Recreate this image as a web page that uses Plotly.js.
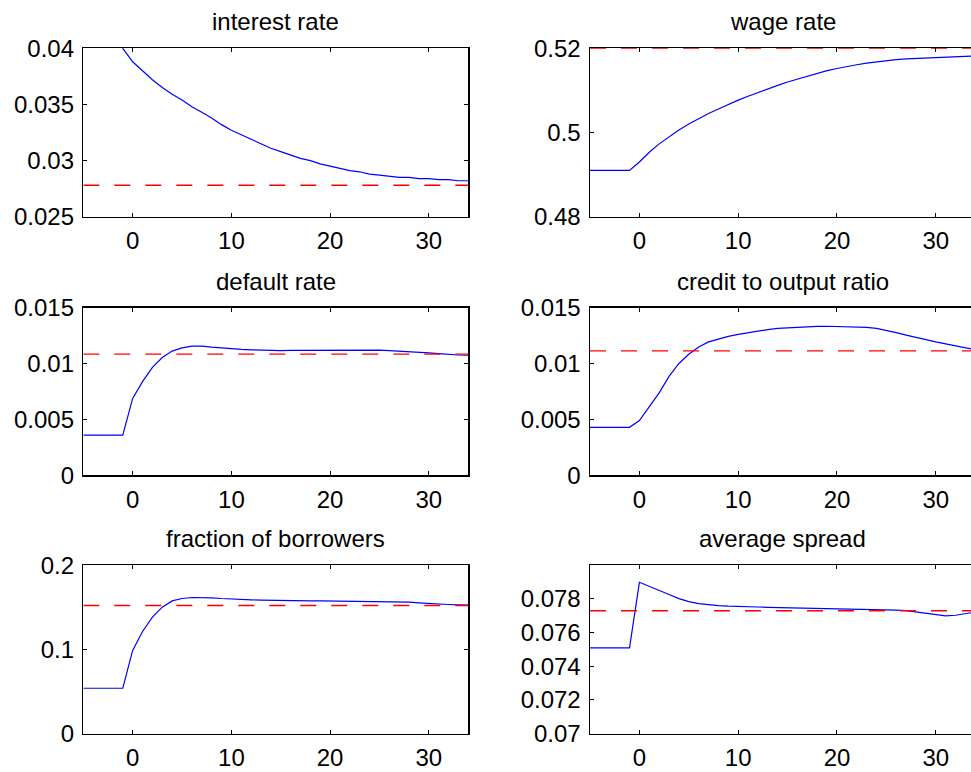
<!DOCTYPE html>
<html>
<head>
<meta charset="utf-8">
<script src="https://cdn.plot.ly/plotly-3.0.1.min.js"></script>
<style>
html, body { margin: 0; padding: 0; overflow: hidden; background: #fff; }
#chart { width: 1060px; height: 772px; }
</style>
</head>
<body>
<div id="chart"></div>
<script>
// ---- data ----
const periods = [];
for (let t = -5; t <= 34; t++) periods.push(t);

const titles = ["interest rate", "wage rate", "default rate", "credit to output ratio", "fraction of borrowers", "average spread"];

const interestRate = [0.0415,0.0415,0.0415,0.0415,0.0400,
  0.0388,0.0380,0.0372,0.0365,0.0359,0.0354,0.0348,0.0343,0.0338,0.0332,
  0.0327,0.0323,0.0319,0.0315,0.0311,0.0308,0.0305,0.0302,0.0300,0.0297,
  0.0295,0.0293,0.0291,0.0290,0.0288,0.0287,0.0286,0.0285,0.0285,0.0284,
  0.0284,0.0283,0.0283,0.0282,0.0282];

const wageRate = [0.4910,0.4910,0.4910,0.4910,0.4910,
  0.4930,0.4953,0.4973,0.4990,0.5006,0.5020,0.5033,0.5045,0.5056,0.5067,
  0.5077,0.5086,0.5095,0.5104,0.5112,0.5120,0.5127,0.5134,0.5141,0.5147,
  0.5152,0.5157,0.5161,0.5165,0.5168,0.5171,0.5173,0.5175,0.5176,0.5177,
  0.5178,0.5179,0.5180,0.5181,0.5182];

const defaultRate = [0.0036,0.0036,0.0036,0.0036,0.0036,
  0.00688,0.00838,0.00966,0.01053,0.01111,0.01140,0.01155,0.01155,0.01146,0.01138,
  0.01131,0.01126,0.01122,0.01119,0.01117,0.01116,0.01117,0.01118,0.01119,0.01120,
  0.01120,0.01120,0.01120,0.01120,0.01120,0.01120,0.01116,0.01112,0.01107,0.01101,
  0.01095,0.01088,0.01080,0.01076,0.01074];

const creditOutput = [0.00429,0.00429,0.00429,0.00429,0.00429,
  0.00490,0.00618,0.00737,0.00885,0.01000,0.01083,0.01148,0.01193,0.01220,0.01242,
  0.01261,0.01277,0.01291,0.01303,0.01314,0.01320,0.01326,0.01330,0.01332,0.01333,
  0.01332,0.01331,0.01329,0.01324,0.01314,0.01297,0.01276,0.01254,0.01232,0.01212,
  0.01193,0.01175,0.01157,0.01140,0.01124];

const borrowers = [0.0538,0.0538,0.0538,0.0538,0.0538,
  0.0988,0.1213,0.1383,0.1502,0.1577,0.1605,0.1617,0.1617,0.1613,0.1605,
  0.1597,0.1593,0.1589,0.1586,0.1583,0.1581,0.1580,0.1579,0.1578,0.1578,
  0.1577,0.1577,0.1576,0.1575,0.1574,0.1573,0.1572,0.1570,0.1562,0.1553,
  0.1545,0.1540,0.1534,0.1530,0.1526];

const avgSpread = [0.07509,0.07509,0.07509,0.07509,0.07509,
  0.07899,0.07876,0.07852,0.07826,0.07802,0.07784,0.07772,0.07764,0.07760,0.07757,
  0.07754,0.07753,0.07752,0.07750,0.07749,0.07748,0.07746,0.07745,0.07743,0.07742,
  0.07740,0.07739,0.07738,0.07737,0.07737,0.07736,0.07734,0.07730,0.07722,0.07713,
  0.07705,0.07699,0.07703,0.07713,0.07722];

const steadyStates = [0.0278, 0.52, 0.01084, 0.01113, 0.1522, 0.0773];

const yRanges = [[0.025, 0.04], [0.48, 0.52], [0, 0.015], [0, 0.015], [0, 0.2], [0.07, 0.08]];
const yTickVals = [
  [0.025, 0.03, 0.035, 0.04],
  [0.48, 0.5, 0.52],
  [0, 0.005, 0.01, 0.015],
  [0, 0.005, 0.01, 0.015],
  [0, 0.1, 0.2],
  [0.07, 0.072, 0.074, 0.076, 0.078]
];
const yTickText = [
  ["0.025", "0.03", "0.035", "0.04"],
  ["0.48", "0.5", "0.52"],
  ["0", "0.005", "0.01", "0.015"],
  ["0", "0.005", "0.01", "0.015"],
  ["0", "0.1", "0.2"],
  ["0.07", "0.072", "0.074", "0.076", "0.078"]
];
const xTickVals = [0, 10, 20, 30];
const xTickText = ["0", "10", "20", "30"];

const series = [interestRate, wageRate, defaultRate, creditOutput, borrowers, avgSpread];

// ---- layout geometry (pixels) ----
const W = 1060, H = 772;
const colPx = [[83.3, 468.3], [590, 975.3]];
const rowPx = [[48.3, 216.7], [307.6, 475.3], [565.3, 733.5]];
const FONT = '"Liberation Sans", Arial, Helvetica, sans-serif';
const FS = 24;

const traces = [];
const layout = {
  width: W, height: H,
  margin: {l: 0, r: 0, t: 0, b: 0, pad: 0},
  paper_bgcolor: '#fff', plot_bgcolor: '#fff',
  showlegend: false,
  font: {family: FONT, size: FS, color: '#000'},
  annotations: []
};

for (let i = 0; i < 6; i++) {
  const r = Math.floor(i / 2), c = i % 2;
  const n = i + 1;
  const xa = n === 1 ? 'x' : 'x' + n;
  const ya = n === 1 ? 'y' : 'y' + n;
  const xKey = n === 1 ? 'xaxis' : 'xaxis' + n;
  const yKey = n === 1 ? 'yaxis' : 'yaxis' + n;
  const xd = [colPx[c][0] / W, colPx[c][1] / W];
  const yd = [1 - rowPx[r][1] / H, 1 - rowPx[r][0] / H];

  traces.push({
    x: periods, y: series[i], xaxis: xa, yaxis: ya,
    type: 'scatter', mode: 'lines', line: {color: '#0000ff', width: 1.2},
    hoverinfo: 'skip'
  });
  traces.push({
    x: [periods[0], periods[periods.length - 1]],
    y: [steadyStates[i], steadyStates[i]],
    xaxis: xa, yaxis: ya, type: 'scatter', mode: 'lines',
    line: {color: '#ff0000', width: 1.4, dash: '16px,15px'}, hoverinfo: 'skip'
  });

  const common = {
    showgrid: false, zeroline: false, showline: true, mirror: 'ticks',
    linecolor: '#000', linewidth: 1.5, ticks: 'inside', ticklen: 4,
    tickcolor: '#000', tickwidth: 1,
    tickfont: {family: FONT, size: FS, color: '#000'}
  };
  layout[xKey] = Object.assign({}, common, {
    domain: xd, range: [-5, 34], tickmode: 'array',
    tickvals: xTickVals, ticktext: xTickText,
    anchor: ya, ticklabelstandoff: 2
  });
  layout[yKey] = Object.assign({}, common, {
    domain: yd, range: yRanges[i], tickmode: 'array',
    tickvals: yTickVals[i], ticktext: yTickText[i],
    anchor: xa, ticklabelstandoff: 3
  });
  if (i === 1) layout[yKey].layer = 'below traces';

  layout.annotations.push({
    text: titles[i], xref: 'paper', yref: 'paper',
    x: (xd[0] + xd[1]) / 2, y: yd[1], xanchor: 'center', yanchor: 'bottom',
    yshift: 11, showarrow: false,
    font: {family: FONT, size: FS, color: '#000'}
  });
}

Plotly.newPlot('chart', traces, layout, {staticPlot: true, displayModeBar: false});
</script>
</body>
</html>
